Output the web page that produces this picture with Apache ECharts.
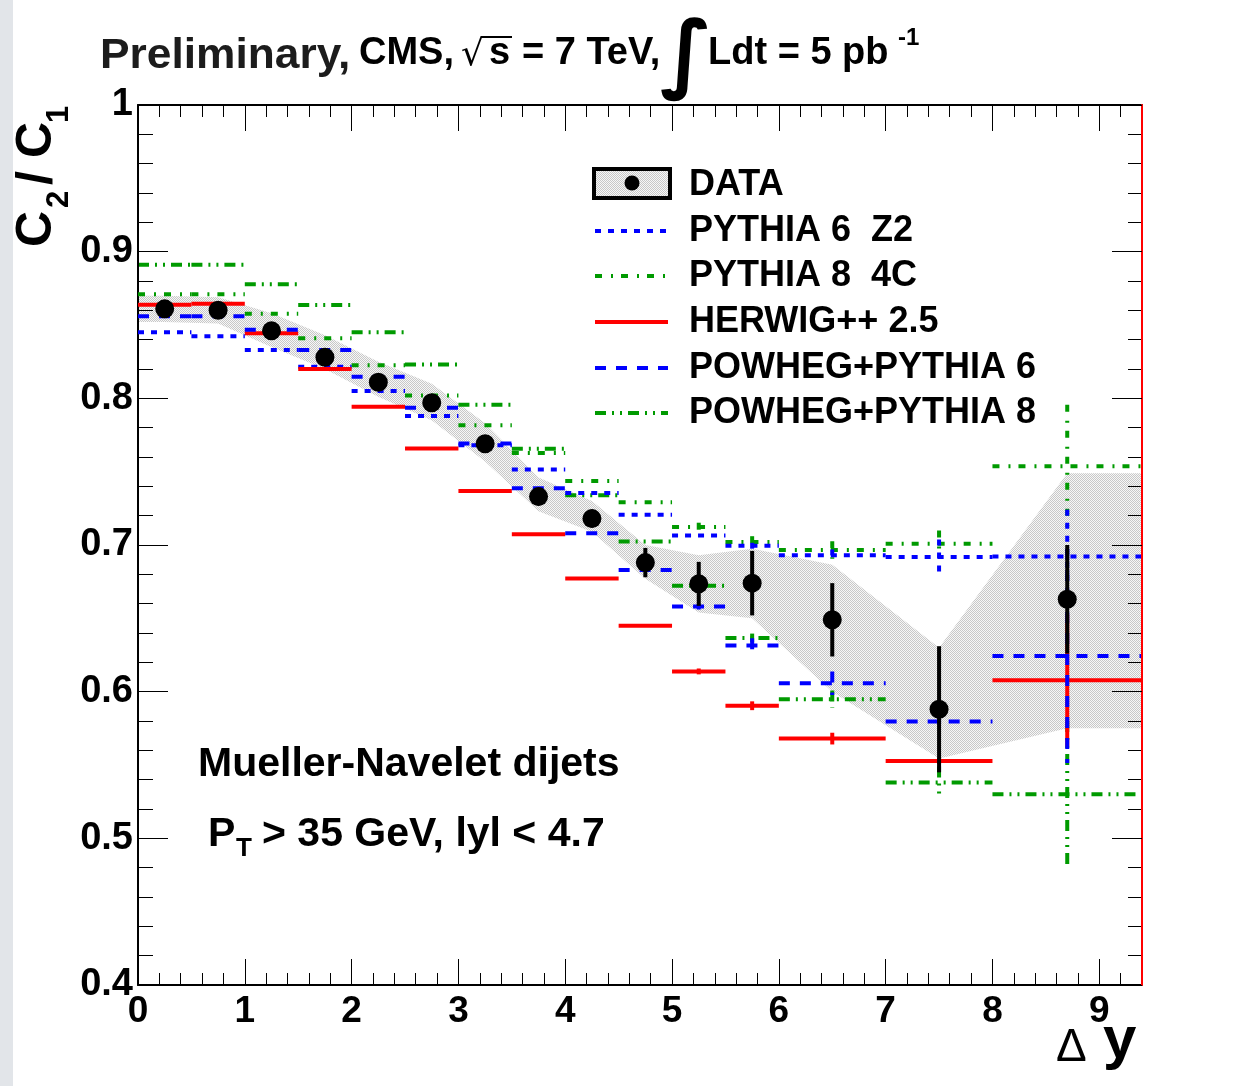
<!DOCTYPE html>
<html><head><meta charset="utf-8">
<script src="https://cdn.jsdelivr.net/npm/echarts@6/dist/echarts.min.js"></script>
<style>html,body{margin:0;padding:0;background:#fff}#c{width:1257px;height:1086px}</style>
</head><body><div id="c"></div><script>
// ---- bins ----
const binLo = [0, 0.5, 1, 1.5, 2, 2.5, 3, 3.5, 4, 4.5, 5, 5.5, 6, 7, 8];
const binHi = [0.5, 1, 1.5, 2, 2.5, 3, 3.5, 4, 4.5, 5, 5.5, 6, 7, 8, 9.4];
const xCenters = [0.25, 0.75, 1.25, 1.75, 2.25, 2.75, 3.25, 3.75, 4.25, 4.75, 5.25, 5.75, 6.5, 7.5, 8.7];
// ---- data ----
const dataVals = [0.861, 0.860, 0.846, 0.828, 0.811, 0.797, 0.769, 0.733, 0.718, 0.688, 0.6735, 0.674, 0.649, 0.588, 0.663];
const dataErr  = [0.003, 0.003, 0.003, 0.003, 0.003, 0.004, 0.005, 0.006, 0.006, 0.010, 0.015, 0.022, 0.025, 0.043, 0.037];
// ---- systematic band ----
const bandX  = [0, 0.25, 0.75, 1.25, 1.75, 2.25, 2.75, 3.25, 3.75, 4.25, 4.75, 5.25, 5.75, 6.5, 7.5, 8.7, 9.4];
const bandHi = [0.870, 0.870, 0.869, 0.858, 0.843, 0.825, 0.810, 0.783, 0.746, 0.730, 0.700, 0.693, 0.6975, 0.6865, 0.630, 0.749, 0.749];
const bandLo = [0.852, 0.852, 0.851, 0.835, 0.820, 0.801, 0.785, 0.757, 0.723, 0.709, 0.677, 0.654, 0.650, 0.600, 0.5545, 0.575, 0.575];
// ---- MC predictions ----
const pythia6Z2    = [0.845, 0.8424, 0.833, 0.8216, 0.805, 0.788, 0.768, 0.7515, 0.7355, 0.7206, 0.7064, 0.6995, 0.693, 0.6918, 0.6921];
const pythia6Z2Err = [0, 0, 0, 0, 0, 0, 0, 0, 0, 0, 0, 0.002, 0.004, 0.012, 0.032];
const pythia84C    = [0.871, 0.871, 0.8576, 0.841, 0.8226, 0.802, 0.7817, 0.7628, 0.7437, 0.7291, 0.7122, 0.702, 0.6966, 0.7009, 0.7537];
const pythia84CErr = [0, 0, 0, 0, 0, 0, 0, 0, 0, 0, 0.003, 0.004, 0.006, 0.009, 0.042];
const herwig       = [0.8638, 0.8645, 0.8444, 0.820, 0.7943, 0.7658, 0.7369, 0.7073, 0.6772, 0.645, 0.6138, 0.5904, 0.568, 0.5527, 0.6077];
const herwigErr    = [0, 0, 0, 0, 0, 0, 0, 0, 0, 0, 0.002, 0.003, 0.004, 0.002, 0.045];
const powhegP6     = [0.856, 0.856, 0.8467, 0.833, 0.8148, 0.7936, 0.7692, 0.7387, 0.708, 0.683, 0.658, 0.6314, 0.6058, 0.5797, 0.6243];
const powhegP6Err  = [0, 0, 0, 0, 0, 0, 0, 0, 0, 0, 0.002, 0.005, 0.008, 0.002, 0.073];
const powhegP8     = [0.891, 0.891, 0.8777, 0.8636, 0.845, 0.823, 0.7956, 0.7656, 0.734, 0.7024, 0.6722, 0.6366, 0.5948, 0.538, 0.530];
const powhegP8Err  = [0, 0, 0, 0, 0, 0, 0, 0, 0, 0, 0.002, 0.003, 0.006, 0.011, 0.050];
// ---- labels ----
const legendNames = ['DATA', 'PYTHIA 6  Z2', 'PYTHIA 8  4C', 'HERWIG++ 2.5', 'POWHEG+PYTHIA 6', 'POWHEG+PYTHIA 8'];

const BLUE = '#0000ff', GREEN = '#009a00', RED = '#ff0000';
const DASH = {p6: [6, 7], p8: [7, 9, 2, 8], hw: null, pw6: [11, 10], pw8: [11, 6, 2, 6, 2, 6]};
const FONT = '"Liberation Sans", Arial, Helvetica, sans-serif';

// hatched band pattern
const pc = document.createElement('canvas'); pc.width = 2; pc.height = 2;
const pctx = pc.getContext('2d');
pctx.fillStyle = '#f7f7f7'; pctx.fillRect(0, 0, 2, 2);
pctx.fillStyle = '#c8c8c8'; pctx.fillRect(0, 0, 1, 1); pctx.fillRect(1, 1, 1, 1);
const bandFill = {image: pc, repeat: 'repeat'};

function stepSeries(name, vals, errs, color, dash, z) {
  return {
    type: 'custom', name, xAxisIndex: 0, yAxisIndex: 0, z, clip: true,
    data: vals.map((v, i) => [binLo[i], binHi[i], xCenters[i], v, errs[i]]),
    encode: {x: [0, 1], y: 3},
    renderItem(params, api) {
      const lo = api.value(0), hi = api.value(1), c = api.value(2), v = api.value(3), e = api.value(4);
      const a = api.coord([lo, v]), b = api.coord([hi, v]);
      const mk = () => { const s = {stroke: color, lineWidth: 4, fill: null, lineCap: 'butt'}; if (dash) s.lineDash = dash; return s; };
      const children = [{type: 'line', shape: {x1: a[0], y1: a[1], x2: b[0], y2: b[1]}, style: mk()}];
      if (e > 0) {
        const t = api.coord([c, v + e]), u = api.coord([c, v - e]);
        children.push({type: 'line', shape: {x1: t[0], y1: t[1], x2: u[0], y2: u[1]}, style: mk()});
      }
      return {type: 'group', children};
    }
  };
}

const series = [
  {
    type: 'custom', name: 'band', z: 1, clip: true, xAxisIndex: 0, yAxisIndex: 0,
    data: bandX.map((x, i) => [x, bandLo[i], bandHi[i]]),
    encode: {x: 0, y: [1, 2]},
    renderItem(params, api) {
      if (params.dataIndex !== 0) return null;
      const pts = [];
      for (let i = 0; i < bandX.length; i++) pts.push(api.coord([bandX[i], bandHi[i]]));
      for (let i = bandX.length - 1; i >= 0; i--) pts.push(api.coord([bandX[i], bandLo[i]]));
      return {type: 'polygon', shape: {points: pts}, style: {fill: bandFill, stroke: null}};
    }
  },
  stepSeries('POWHEG+PYTHIA 8', powhegP8, powhegP8Err, GREEN, DASH.pw8, 2),
  stepSeries('PYTHIA 8 4C', pythia84C, pythia84CErr, GREEN, DASH.p8, 3),
  stepSeries('PYTHIA 6 Z2', pythia6Z2, pythia6Z2Err, BLUE, DASH.p6, 4),
  stepSeries('HERWIG++ 2.5', herwig, herwigErr, RED, DASH.hw, 5),
  stepSeries('POWHEG+PYTHIA 6', powhegP6, powhegP6Err, BLUE, DASH.pw6, 6),
  {
    type: 'custom', name: 'dataErr', z: 8, clip: true, xAxisIndex: 0, yAxisIndex: 0,
    data: dataVals.map((v, i) => [xCenters[i], v, dataErr[i]]),
    encode: {x: 0, y: 1},
    renderItem(params, api) {
      const c = api.value(0), v = api.value(1), e = api.value(2);
      const t = api.coord([c, v + e]), u = api.coord([c, v - e]);
      return {type: 'line', shape: {x1: t[0], y1: t[1], x2: u[0], y2: u[1]}, style: {stroke: '#000', lineWidth: 4}};
    }
  },
  {
    type: 'scatter', name: 'DATA', z: 9, xAxisIndex: 0, yAxisIndex: 0,
    symbol: 'circle', symbolSize: 19, itemStyle: {color: '#000', opacity: 1},
    emphasis: {disabled: true},
    data: dataVals.map((v, i) => [xCenters[i], v])
  }
];

function xAx(pos, interval, len, labels) {
  return {
    type: 'value', position: pos, min: 0, max: 9.4, interval, gridIndex: 0, z: 2,
    axisLine: {show: labels !== null, onZero: false, lineStyle: {color: '#000', width: 2}},
    axisTick: {show: true, inside: true, length: len, lineStyle: {color: '#000', width: 1}},
    axisLabel: labels ? {show: true, margin: 8, color: '#000', fontSize: 37, fontWeight: 'bold', fontFamily: FONT,
      formatter: v => (Math.abs(v - Math.round(v)) < 1e-6 ? String(Math.round(v)) : '')} : {show: false},
    splitLine: {show: false}
  };
}
function yAx(pos, interval, len, labels, lineColor, z) {
  return {
    type: 'value', position: pos, min: 0.4, max: 1, interval, gridIndex: 0, z: z || 2,
    axisLine: {show: lineColor !== null, onZero: false, lineStyle: {color: lineColor || '#000', width: 2}},
    axisTick: {show: true, inside: true, length: len, lineStyle: {color: '#000', width: 1}},
    axisLabel: labels ? {show: true, margin: 5, color: '#000', fontSize: 38, fontWeight: 'bold', fontFamily: FONT,
      formatter: v => (Math.abs(v - 1) < 1e-6 ? '1' : v.toFixed(1))} : {show: false},
    splitLine: {show: false}
  };
}

const legendY = [185, 231, 276, 322, 368, 413];
const legendStyles = [null, [BLUE, DASH.p6], [GREEN, DASH.p8], [RED, null], [BLUE, DASH.pw6], [GREEN, DASH.pw8]];
const graphic = [
  {type: 'rect', left: 0, top: 0, shape: {x: 0, y: 0, width: 13, height: 1086}, style: {fill: '#e2e5e9'}, z: 0}
];
// legend
graphic.push({type: 'rect', shape: {x: 594, y: 169, width: 76, height: 29}, style: {fill: bandFill, stroke: '#000', lineWidth: 4}, z: 20});
graphic.push({type: 'circle', shape: {cx: 632, cy: 183, r: 7.5}, style: {fill: '#000'}, z: 21});
legendNames.forEach((n, i) => {
  const y = legendY[i];
  if (legendStyles[i]) {
    const st = {stroke: legendStyles[i][0], lineWidth: 4, lineCap: 'butt'};
    if (legendStyles[i][1]) st.lineDash = legendStyles[i][1];
    graphic.push({type: 'line', shape: {x1: 595, y1: y, x2: 668, y2: y}, style: st, z: 20});
  }
  graphic.push({type: 'text', x: 689, y: y, style: {text: n, font: 'bold 36px ' + FONT, fill: '#000', verticalAlign: 'middle', align: 'left'}, z: 20});
});
// title
const T = (text, x, y, size, weight, extra) => Object.assign({type: 'text', x, y, z: 20,
  style: {text, font: (weight || 'bold') + ' ' + size + 'px ' + FONT, fill: '#000', verticalAlign: 'middle', align: 'left'}}, extra || {});
graphic.push(T('Preliminary,', 100, 56, 43, 'bold', {style: {text: 'Preliminary,', font: 'bold 43px ' + FONT, fill: '#1c1c1c', verticalAlign: 'middle', align: 'left'}, scaleX: 1.03}));
graphic.push(T('CMS,', 359, 54, 38));
graphic.push(T('\u221A', 461, 56, 36, 'normal', {style: {text: '\u221A', font: 'normal 36px "DejaVu Sans", sans-serif', fill: '#000', verticalAlign: 'middle', align: 'left'}}));
graphic.push({type: 'line', shape: {x1: 481, y1: 37, x2: 512, y2: 37}, style: {stroke: '#000', lineWidth: 2}, z: 20});
graphic.push(T('s', 489, 54, 38));
graphic.push(T('= 7 TeV,', 522, 54, 38));
graphic.push(T('\u222B', 660, 60, 86, 'bold', {style: {text: '\u222B', font: 'bold 86px "DejaVu Sans", sans-serif', fill: '#000', verticalAlign: 'middle', align: 'left'}}));
graphic.push(T('Ldt = 5 pb', 708, 54, 38));
graphic.push(T('-1', 898, 38, 24));
// in-plot texts
graphic.push(T('Mueller-Navelet dijets', 198, 765, 41));
graphic.push(T('P', 208, 835, 41));
graphic.push(T('T', 236, 849, 26));
graphic.push(T('> 35 GeV, lyl < 4.7', 262, 835, 41));
// x title
graphic.push(T('\u0394', 1056, 1048, 46, 'normal'));
graphic.push(T('y', 1103, 1041, 60));
// y title (rotated)
graphic.push({
  type: 'group', x: 37, y: 247, rotation: Math.PI / 2, z: 20,
  children: [
    {type: 'text', x: 0, y: 0, style: {text: 'C', font: 'bold 50px ' + FONT, fill: '#000', verticalAlign: 'middle', align: 'left'}},
    {type: 'text', x: 39, y: 22, style: {text: '2', font: 'bold 31px ' + FONT, fill: '#000', verticalAlign: 'middle', align: 'left'}},
    {type: 'text', x: 62, y: 0, style: {text: '/', font: 'bold 50px ' + FONT, fill: '#000', verticalAlign: 'middle', align: 'left'}},
    {type: 'text', x: 89, y: 0, style: {text: 'C', font: 'bold 50px ' + FONT, fill: '#000', verticalAlign: 'middle', align: 'left'}},
    {type: 'text', x: 124, y: 22, style: {text: '1', font: 'bold 31px ' + FONT, fill: '#000', verticalAlign: 'middle', align: 'left'}}
  ]
});

const chart = echarts.init(document.getElementById('c'), null, {renderer: 'canvas'});
chart.setOption({
  animation: false,
  backgroundColor: '#fff',
  grid: {left: 138, top: 105, width: 1004, height: 880, containLabel: false},
  xAxis: [xAx('bottom', 1, 26, true), xAx('bottom', 0.2, 12, null), xAx('top', 1, 26, false), xAx('top', 0.2, 12, null)],
  yAxis: [yAx('left', 0.1, 30, true, '#000'), yAx('left', 0.02, 15, false, null), yAx('right', 0.1, 30, false, RED, 12), yAx('right', 0.02, 14, false, null)],
  series,
  graphic
});
</script></body></html>
